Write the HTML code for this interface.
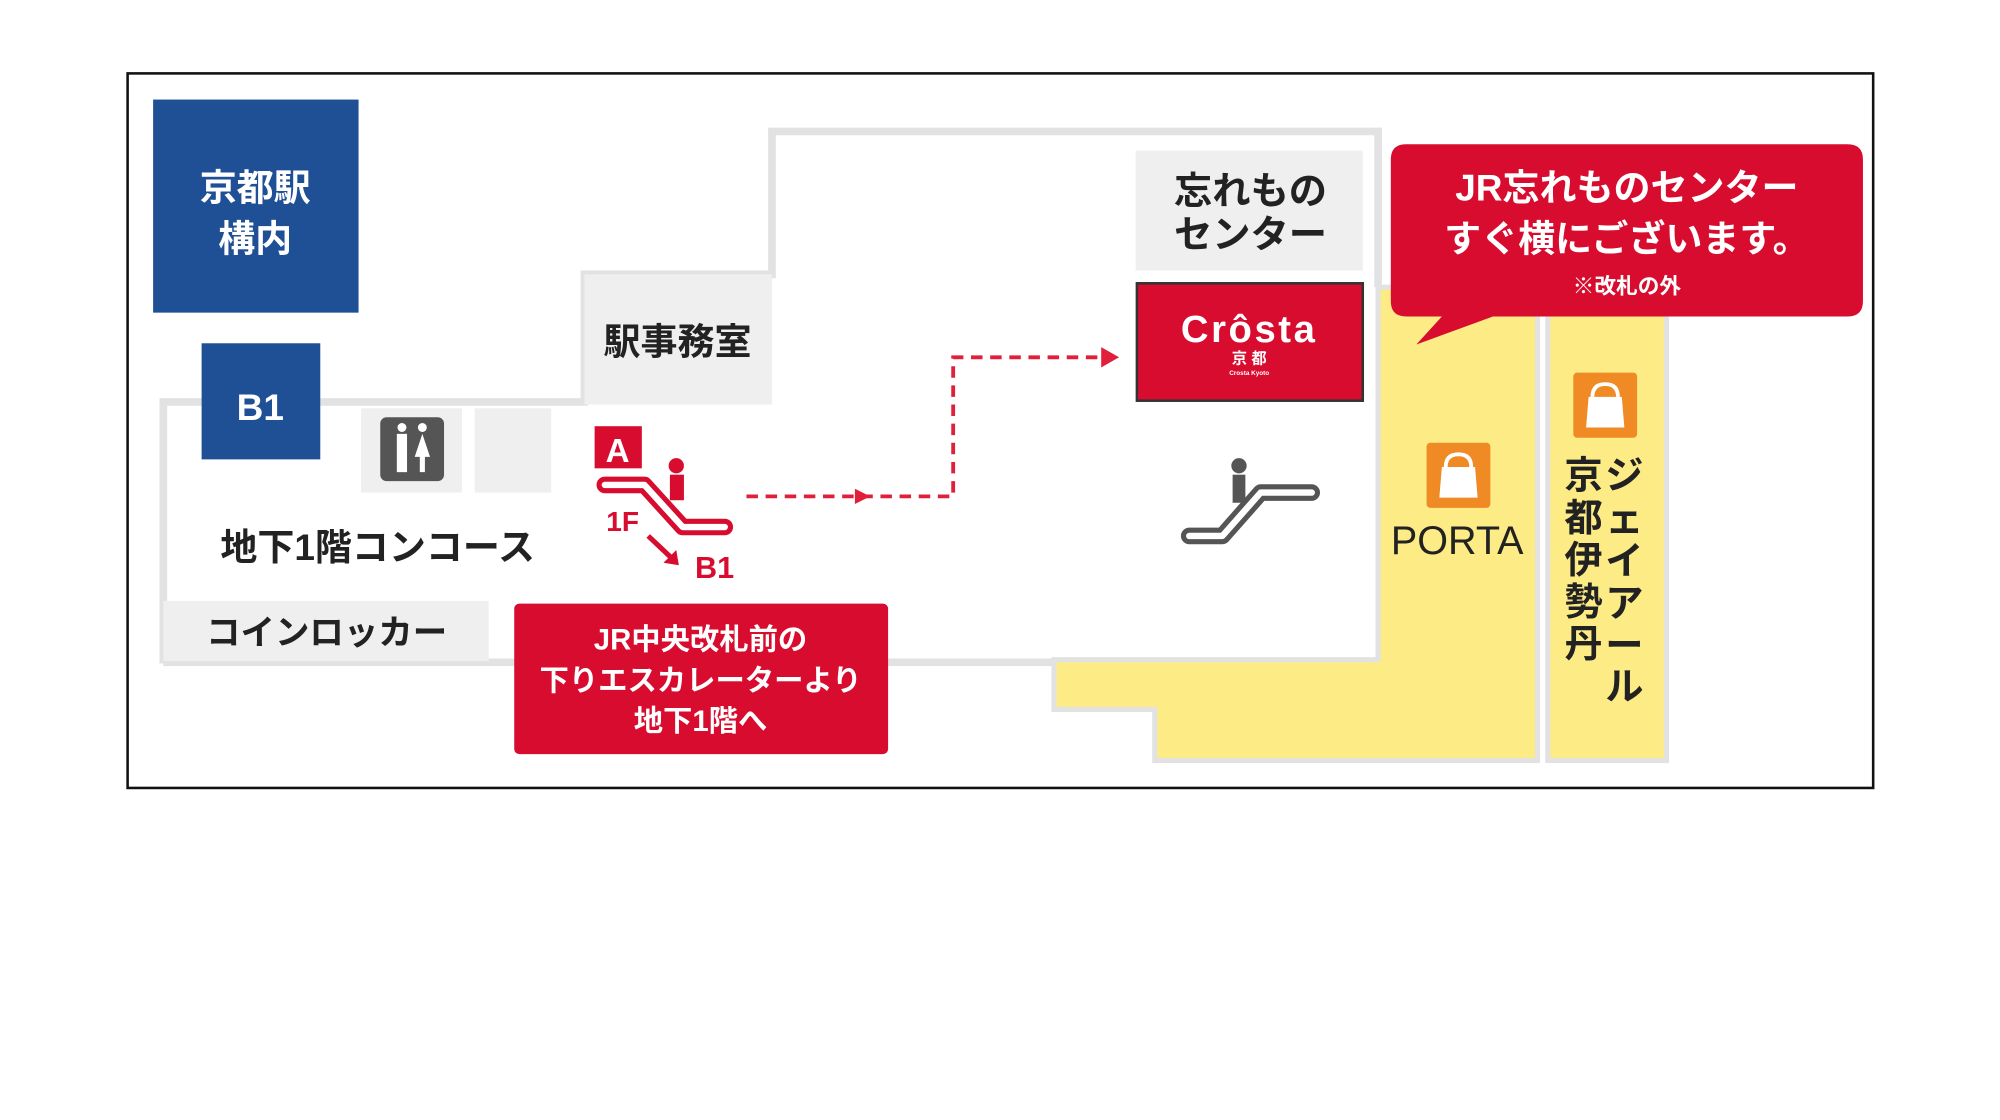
<!DOCTYPE html>
<html><head><meta charset="utf-8"><style>
html,body{margin:0;padding:0;background:#fff;width:2000px;height:1120px;overflow:hidden}
svg{display:block}
text{font-family:"Liberation Sans","Noto Sans CJK JP",sans-serif;font-weight:bold}
</style></head><body>
<svg width="2000" height="1120" viewBox="0 0 1567.4 877.7" xmlns="http://www.w3.org/2000/svg">
<rect x="100" y="57.5" width="1368" height="560" fill="#fff" stroke="#111" stroke-width="2"/>
<!-- walls -->
<path d="M128 520 L128 315 L458 315 L458 215 L605 215 L605 103 L1080 103 L1080 225" fill="none" stroke="#e2e2e2" stroke-width="6"/>
<path d="M128 519 L828 519" fill="none" stroke="#e2e2e2" stroke-width="6"/>
<!-- yellow areas -->
<path d="M1080 225 L1205 225 L1205 596 L905 596 L905 556 L826 556 L826 517 L1080 517 Z" fill="#fdec85" stroke="#e2e2e2" stroke-width="4"/>
<rect x="1213" y="240" width="93" height="356" fill="#fdec85" stroke="#e2e2e2" stroke-width="4"/>
<!-- grey rooms -->
<rect x="458" y="215" width="147" height="102" fill="#efefef"/>
<rect x="283" y="320" width="79" height="66" fill="#efefef"/>
<rect x="372" y="320" width="60" height="66" fill="#efefef"/>
<rect x="128" y="471" width="255" height="47" fill="#efefef"/>
<rect x="890" y="118" width="178" height="94" fill="#efefef"/>
<!-- blue -->
<rect x="120" y="78" width="161" height="167" fill="#1f5096"/>
<text x="200" y="157" font-size="29" fill="#fff" text-anchor="middle">京都駅</text>
<text x="200" y="197" font-size="29" fill="#fff" text-anchor="middle">構内</text>
<rect x="158" y="269" width="93" height="91" fill="#1f5096"/>
<text x="204" y="329" font-size="29" fill="#fff" text-anchor="middle">B1</text>
<!-- toilet -->
<rect x="298" y="327" width="50" height="50" rx="5" fill="#555"/>
<g fill="#fff"><circle cx="315" cy="335" r="3.5"/><rect x="311" y="340" width="8" height="30"/><circle cx="331" cy="335" r="3.5"/><path d="M331 340 L337 358 L333 358 L333 370 L329 370 L329 358 L325 358 Z"/></g>
<!-- labels -->
<text x="531" y="278" font-size="29" fill="#222" text-anchor="middle">駅事務室</text>
<text x="296" y="439" font-size="29" fill="#222" text-anchor="middle">地下1階コンコース</text>
<text x="256" y="505" font-size="27" fill="#222" text-anchor="middle">コインロッカー</text>
<text x="980" y="160" font-size="30" fill="#222" text-anchor="middle">忘れもの</text>
<text x="980" y="194" font-size="30" fill="#222" text-anchor="middle">センター</text>
<!-- crosta -->
<rect x="891" y="222" width="177" height="92" fill="#d80c2f" stroke="#333" stroke-width="2"/>
<text x="979" y="268" font-size="30" fill="#fff" text-anchor="middle" style="letter-spacing:2px">Crôsta</text>
<text x="979" y="285" font-size="12" fill="#fff" text-anchor="middle">京 都</text>
<text x="979" y="294" font-size="5" fill="#fff" text-anchor="middle">Crosta Kyoto</text>
<!-- escalator grey -->
<circle cx="971" cy="365" r="6" fill="#555"/>
<rect x="966" y="372" width="10" height="22" fill="#555"/>
<path d="M932 420 L958 420 L988 386 L1028 386" fill="none" stroke="#555" stroke-width="13" stroke-linecap="round" stroke-linejoin="round"/>
<path d="M932 420 L958 420 L988 386 L1028 386" fill="none" stroke="#fff" stroke-width="5" stroke-linecap="round" stroke-linejoin="round"/>
<!-- red escalator -->
<rect x="466" y="334" width="37" height="33" fill="#d80c2f"/>
<text x="484" y="362" font-size="26" fill="#fff" text-anchor="middle">A</text>
<circle cx="530" cy="365" r="6" fill="#d80c2f"/>
<rect x="525" y="372" width="11" height="20" fill="#d80c2f"/>
<path d="M474 380 L505 380 L535 413 L568 413" fill="none" stroke="#d80c2f" stroke-width="13" stroke-linecap="round" stroke-linejoin="round"/>
<path d="M474 380 L505 380 L535 413 L568 413" fill="none" stroke="#fff" stroke-width="5" stroke-linecap="round" stroke-linejoin="round"/>
<text x="488" y="416" font-size="22" fill="#d80c2f" text-anchor="middle">1F</text>
<path d="M508 420 L526 437" stroke="#d80c2f" stroke-width="4"/>
<path d="M520 441 L532 443 L530 431 Z" fill="#d80c2f"/>
<text x="560" y="453" font-size="24" fill="#d80c2f" text-anchor="middle">B1</text>
<!-- dashed arrow -->
<path d="M585 389 L747 389 L747 280 L865 280" fill="none" stroke="#e0203a" stroke-width="3" stroke-dasharray="9 6"/>
<path d="M670 383 L682 389 L670 395 Z" fill="#e0203a"/>
<path d="M863 272 L877 280 L863 288 Z" fill="#e0203a"/>
<!-- bottom callout -->
<rect x="403" y="473" width="293" height="118" rx="4" fill="#d80c2f"/>
<text x="549" y="509" font-size="23" fill="#fff" text-anchor="middle">JR中央改札前の</text>
<text x="549" y="541" font-size="23" fill="#fff" text-anchor="middle">下りエスカレーターより</text>
<text x="549" y="573" font-size="23" fill="#fff" text-anchor="middle">地下1階へ</text>
<!-- top callout -->
<path d="M1102 113 L1448 113 Q1460 113 1460 125 L1460 236 Q1460 248 1448 248 L1170 248 L1110 270 L1130 248 L1102 248 Q1090 248 1090 236 L1090 125 Q1090 113 1102 113 Z" fill="#d80c2f"/>
<text x="1275" y="157" font-size="29" fill="#fff" text-anchor="middle">JR忘れものセンター</text>
<text x="1275" y="197" font-size="29" fill="#fff" text-anchor="middle">すぐ横にございます。</text>
<text x="1275" y="230" font-size="17" fill="#fff" text-anchor="middle">※改札の外</text>
<!-- bags -->
<rect x="1118" y="347" width="50" height="51" rx="3" fill="#f08a24"/>
<path d="M1133 366 Q1133 356 1143 356 Q1153 356 1153 366" fill="none" stroke="#fff" stroke-width="3"/>
<path d="M1130 366 L1156 366 L1158 390 L1128 390 Z" fill="#fff"/>
<rect x="1233" y="292" width="50" height="51" rx="3" fill="#f08a24"/>
<path d="M1248 311 Q1248 301 1258 301 Q1268 301 1268 311" fill="none" stroke="#fff" stroke-width="3"/>
<path d="M1245 311 L1271 311 L1273 335 L1243 335 Z" fill="#fff"/>
<text x="1142" y="434" font-size="31" fill="#222" text-anchor="middle" style="font-weight:normal">PORTA</text>
<g font-size="30" fill="#222" text-anchor="middle" style="font-weight:normal">
<text x="1273" y="383">ジ</text><text x="1273" y="417">ェ</text><text x="1273" y="450">イ</text><text x="1273" y="483">ア</text><text x="1273" y="516">ー</text><text x="1273" y="548">ル</text>
<text x="1241" y="383">京</text><text x="1241" y="416">都</text><text x="1241" y="449">伊</text><text x="1241" y="482">勢</text><text x="1241" y="515">丹</text>
</g>
</svg>
</body></html>
